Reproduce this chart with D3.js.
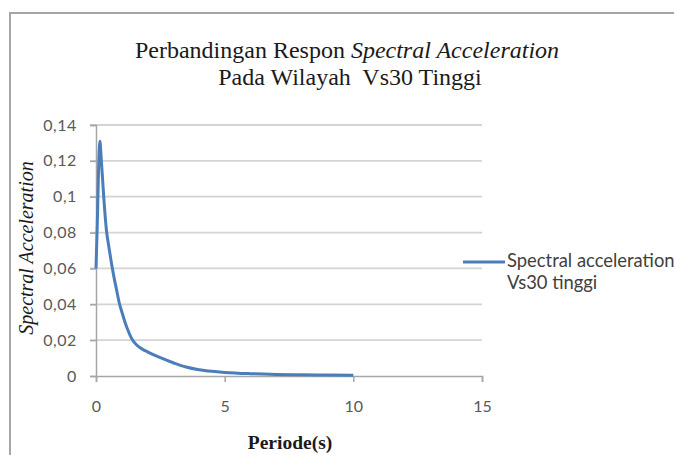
<!DOCTYPE html>
<html>
<head>
<meta charset="utf-8">
<script src="https://cdn.jsdelivr.net/npm/d3@7"></script>
<style>
  body { margin: 0; background: #fff; }
  svg { display: block; }
</style>
</head>
<body>
<svg width="674" height="455"></svg>
<script>
// periode (s) and spectral acceleration
const periods = [0, 0.05, 0.1, 0.15, 0.2, 0.3, 0.4, 0.5, 0.6, 0.7, 0.8, 0.9, 1.0, 1.2, 1.4, 1.6, 1.8, 2.0, 2.5, 3.0, 3.5, 4.0, 4.5, 5.0, 6.0, 7.0, 8.0, 9.0, 10.0];
const saValues = [0.06, 0.085, 0.115, 0.131, 0.122, 0.1, 0.082, 0.072, 0.063, 0.055, 0.048, 0.041, 0.036, 0.027, 0.0205, 0.017, 0.015, 0.0135, 0.0102, 0.0074, 0.005, 0.0035, 0.0026, 0.002, 0.0013, 0.0009, 0.0007, 0.0005, 0.0004];
const xTicks = [0, 5, 10, 15];
const yTicks = [0, 0.02, 0.04, 0.06, 0.08, 0.1, 0.12, 0.14];
const seriesName = ['Spectral acceleration', 'Vs30 tinggi'];

const svg = d3.select('svg');
const width = +svg.attr('width');
const height = +svg.attr('height');

const plotLeft = 96, plotRight = 482, plotTop = 125, plotBottom = 376;

// chart frame (cut off at the right and bottom)
svg.append('path')
    .attr('d', `M10,${height} L10,13 L${width},13`)
    .attr('fill', 'none')
    .attr('stroke', '#a6a6a6')
    .attr('stroke-width', 2);

const x = d3.scaleLinear().domain([0, 15]).range([plotLeft, plotRight]);
const y = d3.scaleLinear().domain([0, 0.14]).range([plotBottom, plotTop]);

const fmt = d => d3.format('.2~f')(d).replace('.', ',');

// gridlines
svg.append('g')
    .selectAll('line')
    .data(yTicks.slice(1))
    .join('line')
        .attr('x1', plotLeft - 6)
        .attr('x2', plotRight)
        .attr('y1', d => y(d))
        .attr('y2', d => y(d))
        .attr('stroke', '#d4d4d4')
        .attr('stroke-width', 1.8);

// y axis
const yAxis = svg.append('g')
    .attr('transform', `translate(${plotLeft},0)`)
    .call(d3.axisLeft(y).tickValues(yTicks).tickFormat(fmt).tickSize(6).tickPadding(13));

// x axis
const xAxis = svg.append('g')
    .attr('transform', `translate(0,${plotBottom})`)
    .call(d3.axisBottom(x).tickValues(xTicks).tickSize(6).tickPadding(19));

[yAxis, xAxis].forEach(a => {
    a.select('.domain').attr('stroke', '#a6a6a6').attr('stroke-width', 1.5);
    a.selectAll('.tick line').attr('stroke', '#a6a6a6').attr('stroke-width', 1.5);
    a.selectAll('text')
        .attr('fill', '#595959')
        .style('font-family', 'Lato, "Open Sans", sans-serif')
        .style('font-size', '16px');
});
yAxis.selectAll('text').style('letter-spacing', '0.6px');

// series line
const line = d3.line()
    .x((d, i) => x(periods[i]))
    .y(d => y(d))
    .curve(d3.curveMonotoneX);

svg.append('path')
    .datum(saValues)
    .attr('d', line)
    .attr('fill', 'none')
    .attr('stroke', '#4a7ebb')
    .attr('stroke-width', 3)
    .attr('stroke-linejoin', 'round');

// title
const title = svg.append('text')
    .attr('x', 347)
    .attr('text-anchor', 'middle')
    .attr('fill', '#1a1a1a')
    .style('font-family', '"Liberation Serif", "DejaVu Serif", serif')
    .style('font-size', '24px');
const t1 = title.append('tspan').attr('x', 347).attr('y', 58);
t1.append('tspan').text('Perbandingan Respon ');
t1.append('tspan').style('font-style', 'italic').text('Spectral Acceleration');
title.append('tspan').attr('x', 350).attr('y', 85).text('Pada Wilayah\u00a0 Vs30 Tinggi');

// axis titles
svg.append('text')
    .attr('transform', 'translate(33,248) rotate(-90)')
    .attr('text-anchor', 'middle')
    .attr('fill', '#1a1a1a')
    .style('font-family', '"Liberation Serif", serif')
    .style('font-style', 'italic')
    .style('font-size', '20px')
    .text('Spectral Acceleration');

svg.append('text')
    .attr('x', 290)
    .attr('y', 449)
    .attr('text-anchor', 'middle')
    .attr('fill', '#1a1a1a')
    .style('font-family', '"Liberation Serif", serif')
    .style('font-weight', 'bold')
    .style('font-size', '19.5px')
    .text('Periode(s)');

// legend
const legend = svg.append('g');
legend.append('line')
    .attr('x1', 463).attr('x2', 505)
    .attr('y1', 262).attr('y2', 262)
    .attr('stroke', '#4a7ebb')
    .attr('stroke-width', 3);
legend.append('text')
    .attr('fill', '#404040')
    .style('font-family', 'Lato, "Open Sans", sans-serif')
    .style('font-size', '18.4px')
    .selectAll('tspan')
    .data(seriesName)
    .join('tspan')
        .attr('x', 507)
        .attr('y', (d, i) => 267 + i * 22)
        .text(d => d);
</script>
</body>
</html>
